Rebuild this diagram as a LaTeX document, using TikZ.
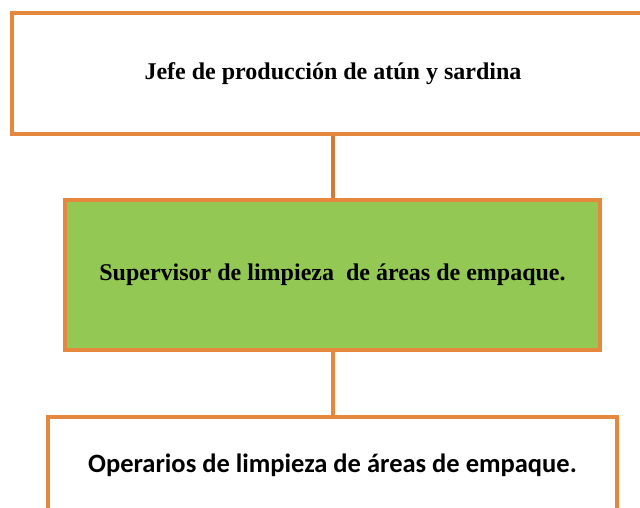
\documentclass[tikz,border=0pt]{standalone}
\usepackage{fontspec}
\setmainfont{Liberation Serif}
\newfontfamily\calfont{Carlito}
\definecolor{boxorange}{HTML}{E5883D}
\definecolor{linkbrown}{HTML}{D07B38}
\definecolor{boxgreen}{HTML}{92C853}
\begin{document}
\begin{tikzpicture}[x=1pt,y=1pt,
  orgbox/.style={draw=boxorange, line width=4pt, rectangle, inner sep=0pt, align=center},
  link/.style={line width=4.5pt}]
\useasboundingbox (0,0) rectangle (640,-508);
\clip (0,0) rectangle (640,-508);
\node[orgbox, fill=white, minimum width=642, minimum height=121,
      font=\fontsize{24}{28}\selectfont\bfseries] (jefe) at (333,-73.5) {Jefe de producción de atún y sardina};
\node[orgbox, fill=boxgreen, minimum width=535, minimum height=150,
      font=\fontsize{24}{28}\selectfont\bfseries] (sup) at (332.5,-275) {Supervisor de limpieza\ \ de áreas de empaque.};
\node[orgbox, fill=white, minimum width=569, minimum height=96,
      font=\calfont\fontsize{26.5}{30}\selectfont\bfseries] (ope) at (332.5,-465) {Operarios de limpieza de áreas de empaque.};
\draw[link, draw=linkbrown] (jefe.south -| 333,0) -- (sup.north -| 333,0);
\draw[link, draw=boxorange] (sup.south -| 333,0) -- (ope.north -| 333,0);
\end{tikzpicture}
\end{document}
